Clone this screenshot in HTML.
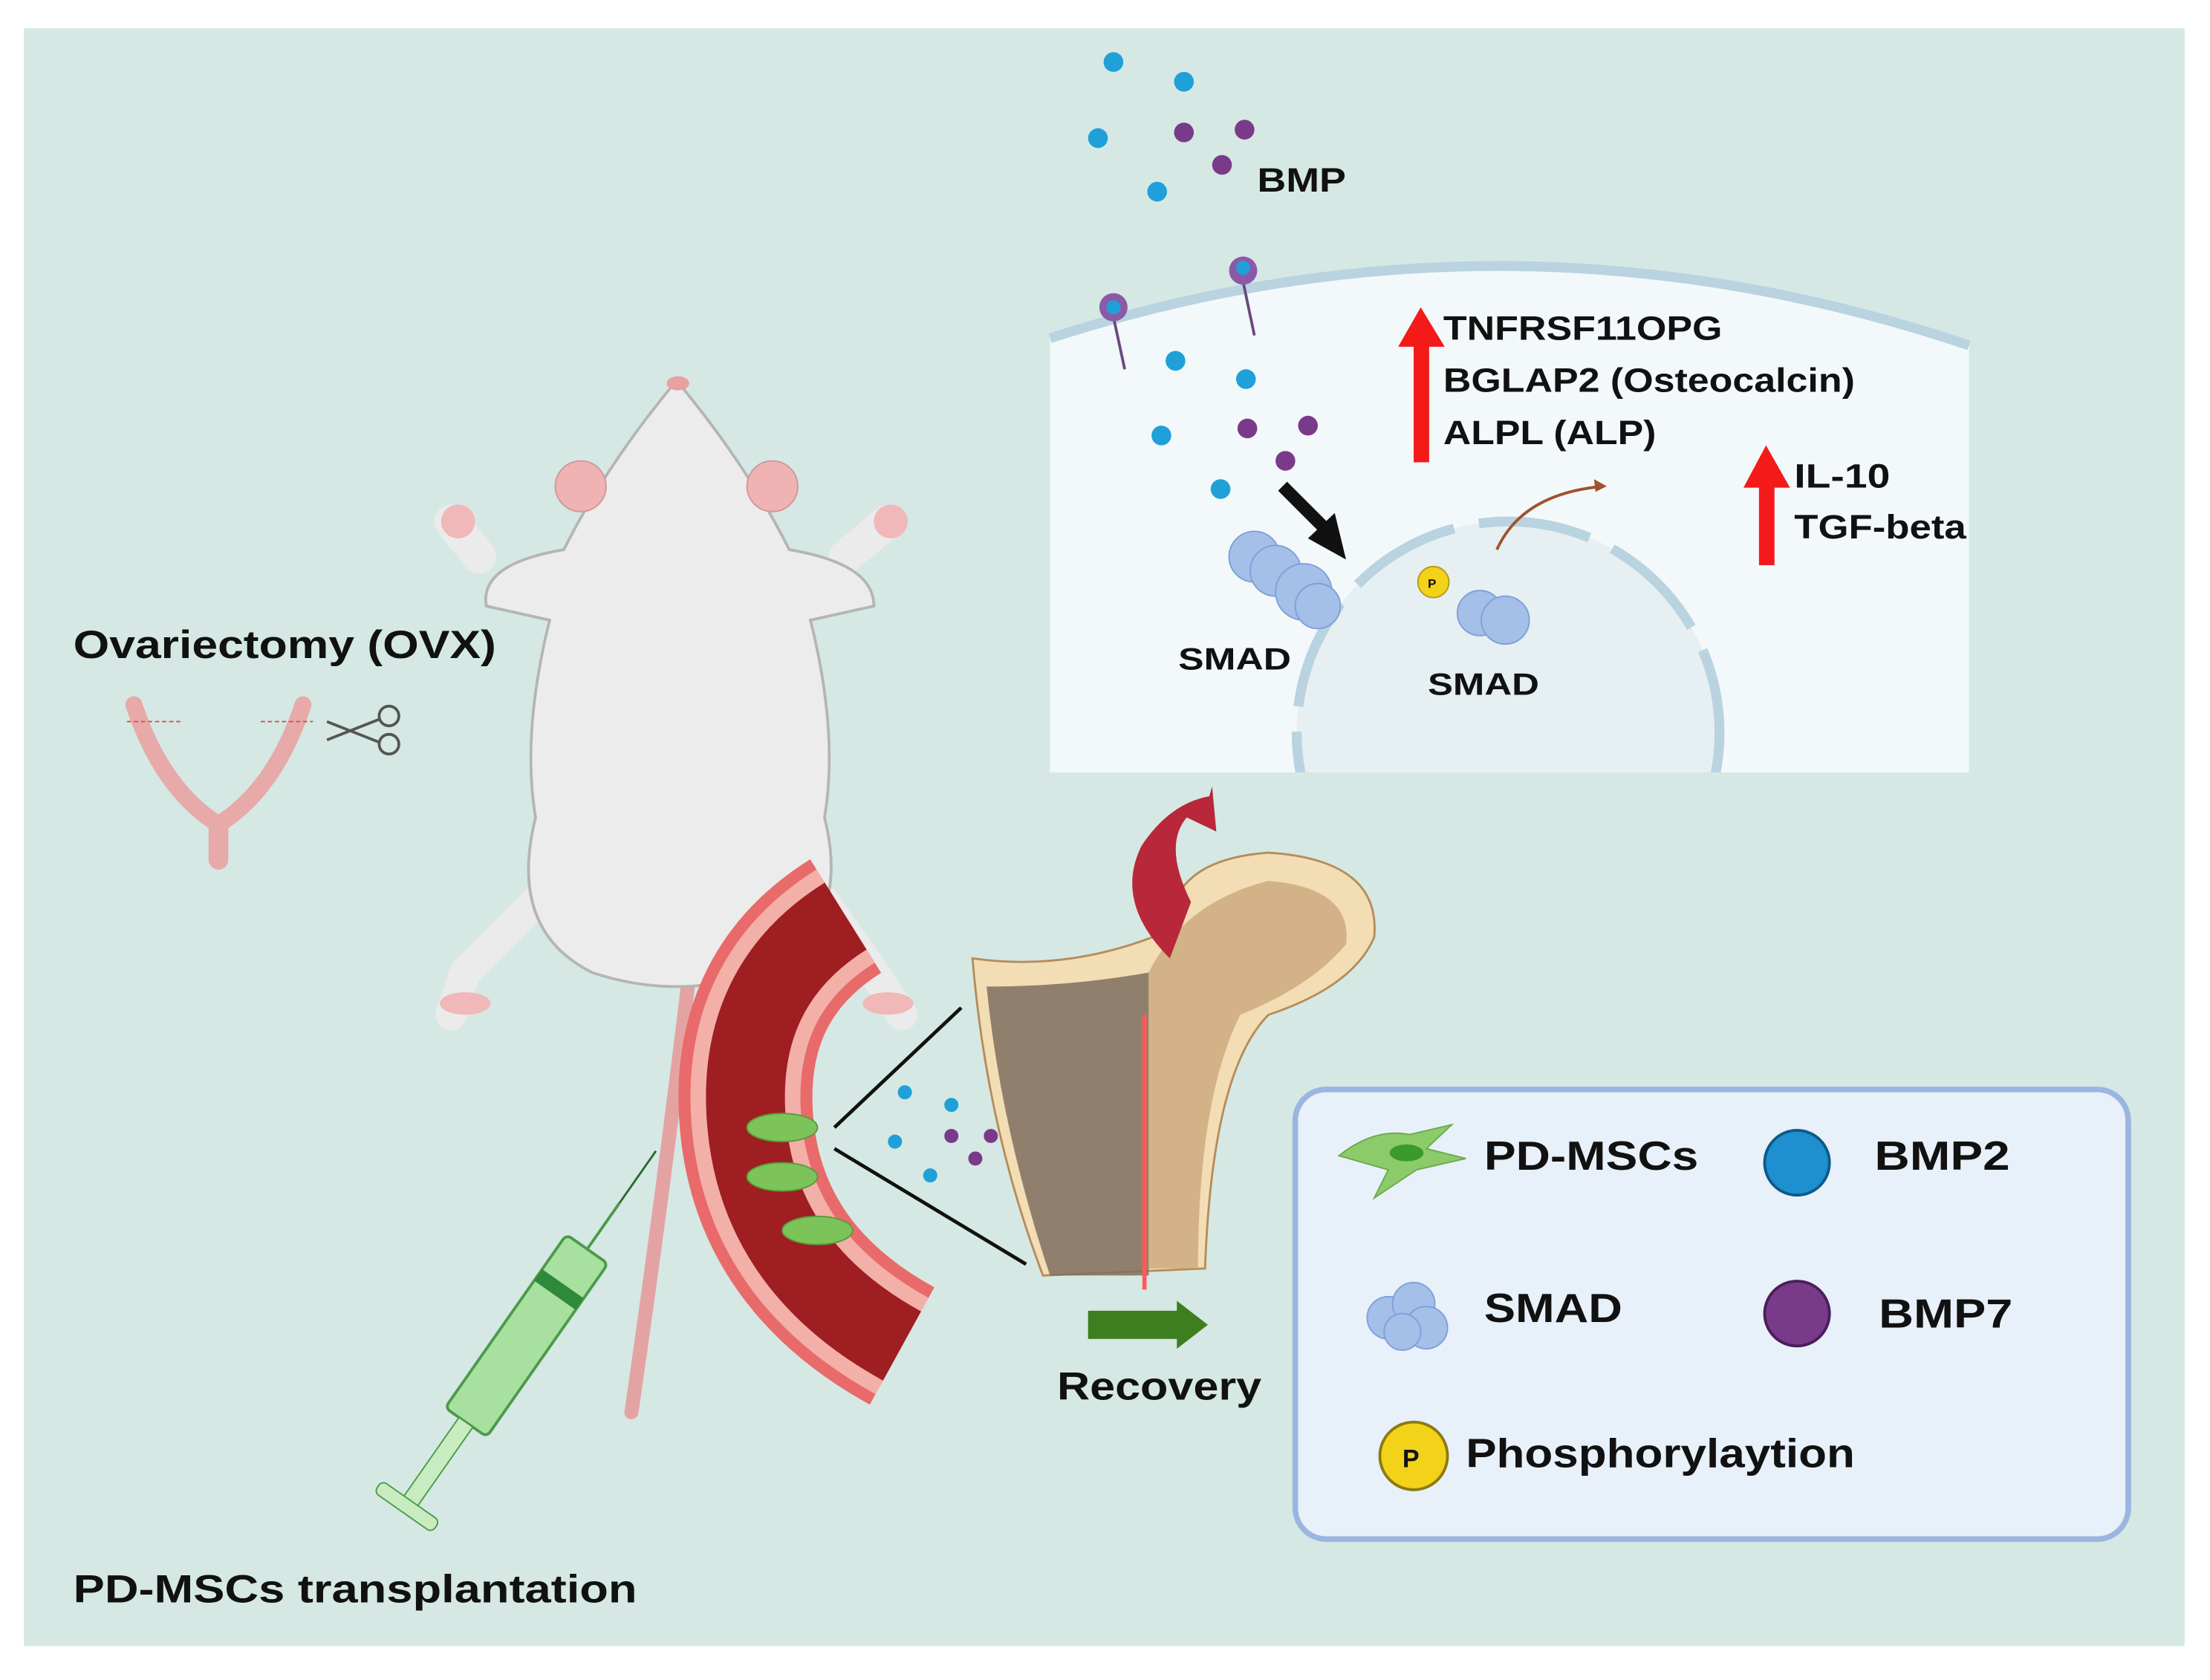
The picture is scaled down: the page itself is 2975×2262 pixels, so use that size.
<!DOCTYPE html>
<html><head><meta charset="utf-8"><style>
html,body{margin:0;padding:0;background:#fff}
svg{display:block}
text{font-family:"Liberation Sans",sans-serif;font-weight:bold;fill:#111}
</style></head><body>
<svg width="2975" height="2262" viewBox="0 0 1568 1192" preserveAspectRatio="none" xmlns="http://www.w3.org/2000/svg">
<rect x="0" y="0" width="1568" height="1192" fill="#fff"/>
<rect x="17" y="20" width="1533" height="1148" fill="#d5e8e4"/>

<!-- uterus -->
<path d="M95,500 Q115,560 155,585 Q195,560 215,500" fill="none" stroke="#e8a9a9" stroke-width="12" stroke-linecap="round"/>
<path d="M155,585 L155,610" stroke="#e8a9a9" stroke-width="14" stroke-linecap="round"/>
<line x1="90" y1="512" x2="130" y2="512" stroke="#c55" stroke-dasharray="3,2"/>
<line x1="185" y1="512" x2="222" y2="512" stroke="#c55" stroke-dasharray="3,2"/>
<g stroke="#555" stroke-width="2" fill="none"><circle cx="276" cy="508" r="7"/><circle cx="276" cy="528" r="7"/><line x1="232" y1="525" x2="270" y2="510"/><line x1="232" y1="512" x2="270" y2="527"/></g>

<!-- mouse -->
<path d="M488,700 Q470,850 448,1002" fill="none" stroke="#e4a3a3" stroke-width="10" stroke-linecap="round"/>
<path d="M340,395 L320,370 M600,395 L630,370" stroke="#ebebeb" stroke-width="24" stroke-linecap="round"/>
<path d="M380,640 L330,690 L320,720 M585,640 L620,690 L640,720" stroke="#ebebeb" stroke-width="22" stroke-linecap="round"/>
<circle cx="325" cy="370" r="12" fill="#f0b8b8"/><circle cx="632" cy="370" r="12" fill="#f0b8b8"/>
<ellipse cx="330" cy="712" rx="18" ry="8" fill="#f0b8b8"/><ellipse cx="630" cy="712" rx="18" ry="8" fill="#f0b8b8"/>
<path d="M400,390 Q340,400 345,430 L390,440 Q370,520 380,580 Q360,660 420,690 Q480,710 540,690 Q605,660 585,580 Q595,520 575,440 L620,430 Q620,400 560,390 Q530,330 480,270 Q430,330 400,390Z" fill="#ececec" stroke="#b5b5b5" stroke-width="2"/>
<circle cx="412" cy="345" r="18" fill="#f0b3b3" stroke="#c99" /><circle cx="548" cy="345" r="18" fill="#f0b3b3" stroke="#c99"/>
<ellipse cx="481" cy="272" rx="8" ry="5" fill="#e9a0a0"/>

<!-- vessel -->
<path d="M600,650 Q520,700 530,800 Q540,900 640,955" fill="none" stroke="#e96a6a" stroke-width="95" stroke-linecap="butt"/>
<path d="M600,650 Q520,700 530,800 Q540,900 640,955" fill="none" stroke="#f3b0a8" stroke-width="78"/>
<path d="M600,650 Q520,700 530,800 Q540,900 640,955" fill="none" stroke="#9e1e22" stroke-width="56"/>
<g fill="#7cc35a" stroke="#5a9a3a"><ellipse cx="555" cy="800" rx="25" ry="10"/><ellipse cx="555" cy="835" rx="25" ry="10"/><ellipse cx="580" cy="873" rx="25" ry="10"/></g>
<line x1="592" y1="800" x2="682" y2="715" stroke="#111" stroke-width="2.5"/>
<line x1="592" y1="815" x2="728" y2="897" stroke="#111" stroke-width="2.5"/>

<!-- syringe -->
<g transform="translate(365,960) rotate(35)">
<rect x="-18" y="-90" width="36" height="150" rx="4" fill="#a8e0a0" stroke="#4a9a4a" stroke-width="2"/>
<rect x="-18" y="-60" width="36" height="10" fill="#2e8a3a"/>
<rect x="-6" y="60" width="12" height="70" fill="#c8ecc0" stroke="#4a9a4a"/>
<rect x="-25" y="128" width="50" height="10" rx="4" fill="#c8ecc0" stroke="#4a9a4a"/>
<line x1="0" y1="-90" x2="0" y2="-130" stroke="#4a9a4a" stroke-width="2"/>
<line x1="0" y1="-130" x2="0" y2="-175" stroke="#2a6a2a" stroke-width="1.5"/>
</g>

<!-- bone -->
<path d="M690,680 Q760,690 830,660 Q830,610 900,605 Q980,610 975,665 Q960,700 900,720 Q860,760 855,900 L740,905 Q700,800 690,680Z" fill="#f3ddb4" stroke="#b58c5a" stroke-width="1.5"/>
<path d="M700,700 Q760,700 815,690 L815,905 L745,905 Q710,800 700,700Z" fill="#7f6e60" opacity="0.85"/>
<path d="M815,690 Q840,640 900,625 Q960,630 955,670 Q930,700 880,720 Q850,780 850,900 L815,900Z" fill="#caa77c" opacity="0.8"/>
<path d="M812,720 L812,915" stroke="#ff5a5a" stroke-width="3"/>
<path d="M830,680 Q790,640 810,600 Q830,570 858,565 L860,558 L863,590 L842,580 Q825,600 845,640" fill="#b8283a"/>
<rect x="772" y="930" width="65" height="20" fill="#3e7e1f"/>
<path d="M835,923 L857,940 L835,957Z" fill="#3e7e1f"/>

<!-- dots near vessel -->
<g fill="#1fa0d8"><circle cx="642" cy="775" r="5"/><circle cx="675" cy="784" r="5"/><circle cx="635" cy="810" r="5"/><circle cx="660" cy="834" r="5"/></g>
<g fill="#7a3a8a"><circle cx="675" cy="806" r="5"/><circle cx="703" cy="806" r="5"/><circle cx="692" cy="822" r="5"/></g>

<!-- cell inset -->
<path d="M745,240 Q1070,135 1397,245 L1397,548 L745,548Z" fill="#f3f8fa"/>
<path d="M745,240 Q1070,135 1397,245" fill="none" stroke="#b9d3e0" stroke-width="7"/>
<clipPath id="c"><rect x="745" y="200" width="652" height="348"/></clipPath>
<g clip-path="url(#c)"><circle cx="1070" cy="520" r="150" fill="#e6eff2" stroke="#b9d3e0" stroke-width="7" stroke-dasharray="80,18"/></g>
<g stroke="#6a4a7a" stroke-width="2"><line x1="790" y1="225" x2="798" y2="262"/><line x1="882" y1="200" x2="890" y2="238"/></g>
<g fill="#8a5aa8"><circle cx="790" cy="218" r="10"/><circle cx="882" cy="192" r="10"/></g>
<g fill="#1fa0d8"><circle cx="790" cy="218" r="5"/><circle cx="882" cy="190" r="5"/>
<circle cx="790" cy="44" r="7"/><circle cx="840" cy="58" r="7"/><circle cx="779" cy="98" r="7"/><circle cx="821" cy="136" r="7"/>
<circle cx="834" cy="256" r="7"/><circle cx="884" cy="269" r="7"/><circle cx="824" cy="309" r="7"/><circle cx="866" cy="347" r="7"/></g>
<g fill="#7a3a8a"><circle cx="840" cy="94" r="7"/><circle cx="883" cy="92" r="7"/><circle cx="867" cy="117" r="7"/>
<circle cx="885" cy="304" r="7"/><circle cx="928" cy="302" r="7"/><circle cx="912" cy="327" r="7"/></g>
<line x1="910" y1="345" x2="945" y2="380" stroke="#111" stroke-width="9"/>
<path d="M955,397 L928,382 L947,364Z" fill="#111"/>
<g fill="#a4bfe8" stroke="#7f9fd8"><circle cx="890" cy="395" r="18"/><circle cx="905" cy="405" r="18"/><circle cx="925" cy="420" r="20"/><circle cx="935" cy="430" r="16"/>
<circle cx="1050" cy="435" r="16"/><circle cx="1068" cy="440" r="17"/></g>
<circle cx="1017" cy="413" r="11" fill="#f3d21a" stroke="#b89a10"/><text x="1013" y="417" font-size="9" font-weight="normal">P</text>
<path d="M1062,390 Q1080,350 1138,345" fill="none" stroke="#a0522d" stroke-width="2"/>
<path d="M1140,345 L1131,340 L1132,349Z" fill="#a0522d"/>
<rect x="1003" y="243" width="11" height="85" fill="#f41a1a"/><path d="M992,246 L1008,218 L1025,246Z" fill="#f41a1a"/>
<rect x="1248" y="343" width="11" height="58" fill="#f41a1a"/><path d="M1237,346 L1253,316 L1270,346Z" fill="#f41a1a"/>

<!-- legend -->
<rect x="919" y="773" width="591" height="319" rx="22" fill="#e8f0f9" stroke="#9ab6e0" stroke-width="4"/>
<path d="M950,820 Q975,800 1000,805 L1030,798 L1012,815 L1040,822 L1005,830 L975,850 L985,830 Z" fill="#8ccb6a" stroke="#6aaa4a"/>
<ellipse cx="998" cy="818" rx="12" ry="6" fill="#3a9a2a"/>
<circle cx="1275" cy="825" r="23" fill="#1e8fcf" stroke="#0d5a8a" stroke-width="2"/>
<g fill="#a4bfe8" stroke="#7f9fd8"><circle cx="985" cy="935" r="15"/><circle cx="1003" cy="925" r="15"/><circle cx="1012" cy="942" r="15"/><circle cx="995" cy="945" r="13"/></g>
<circle cx="1275" cy="932" r="23" fill="#7a3a8a" stroke="#4a1e5a" stroke-width="2"/>
<circle cx="1003" cy="1033" r="24" fill="#f3d21a" stroke="#8a7a10" stroke-width="2"/>

<!-- texts -->
<text x="52" y="467" font-size="28" textLength="300" lengthAdjust="spacingAndGlyphs">Ovariectomy (OVX)</text>
<text x="52" y="1137" font-size="28" textLength="400" lengthAdjust="spacingAndGlyphs">PD-MSCs transplantation</text>
<text x="750" y="993" font-size="28" textLength="145" lengthAdjust="spacingAndGlyphs">Recovery</text>
<text x="892" y="136" font-size="24" textLength="63" lengthAdjust="spacingAndGlyphs">BMP</text>
<text x="1024" y="241" font-size="24" textLength="198" lengthAdjust="spacingAndGlyphs">TNFRSF11OPG</text>
<text x="1024" y="278" font-size="24" textLength="292" lengthAdjust="spacingAndGlyphs">BGLAP2 (Osteocalcin)</text>
<text x="1024" y="315" font-size="24" textLength="151" lengthAdjust="spacingAndGlyphs">ALPL (ALP)</text>
<text x="1273" y="346" font-size="24" textLength="68" lengthAdjust="spacingAndGlyphs">IL-10</text>
<text x="1273" y="382" font-size="24" textLength="122" lengthAdjust="spacingAndGlyphs">TGF-beta</text>
<text x="836" y="475" font-size="22" textLength="80" lengthAdjust="spacingAndGlyphs">SMAD</text>
<text x="1013" y="493" font-size="22" textLength="79" lengthAdjust="spacingAndGlyphs">SMAD</text>
<text x="1053" y="830" font-size="29" textLength="152" lengthAdjust="spacingAndGlyphs">PD-MSCs</text>
<text x="1330" y="830" font-size="29" textLength="96" lengthAdjust="spacingAndGlyphs">BMP2</text>
<text x="1053" y="938" font-size="29" textLength="98" lengthAdjust="spacingAndGlyphs">SMAD</text>
<text x="1333" y="942" font-size="29" textLength="95" lengthAdjust="spacingAndGlyphs">BMP7</text>
<text x="995" y="1041" font-size="18" font-weight="normal">P</text>
<text x="1040" y="1041" font-size="29" textLength="276" lengthAdjust="spacingAndGlyphs">Phosphorylaytion</text>
</svg>
</body></html>
